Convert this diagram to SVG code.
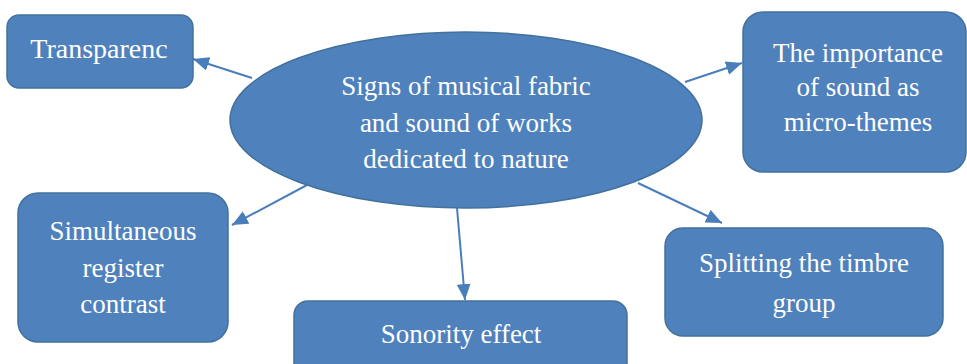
<svg xmlns="http://www.w3.org/2000/svg" width="967" height="364" viewBox="0 0 967 364">
<style>
.node{fill:#4F81BD;stroke:#41719C;stroke-width:1.5}
text{font-family:'Liberation Serif','Times New Roman',serif;font-size:27px;fill:#FFFFFF;text-anchor:middle}
.c{stroke:#4A7EBB;stroke-width:2;fill:none;marker-end:url(#ah)}
</style>
<defs>
<marker id="ah" markerUnits="userSpaceOnUse" markerWidth="16" markerHeight="14" refX="16" refY="7" orient="auto">
<path d="M0,0 L16,7 L0,14 Z" fill="#4A7EBB"/>
</marker>
</defs>
<g id="connectors">
<line class="c" x1="252" y1="78" x2="193" y2="59"/>
<line class="c" x1="685" y1="82" x2="742" y2="63"/>
<line class="c" x1="307" y1="185" x2="232" y2="225"/>
<line class="c" x1="457" y1="208" x2="465" y2="300"/>
<line class="c" x1="638" y1="183" x2="722" y2="223"/>
</g>
<g id="center">
<ellipse class="node" cx="466" cy="120" rx="236" ry="88"/>
<text x="466" y="95">Signs of musical fabric</text>
<text x="466" y="132">and sound of works</text>
<text x="466" y="168">dedicated to nature</text>
</g>
<g id="transparenc">
<rect class="node" x="7" y="15" width="186" height="73" rx="12"/>
<text x="99" y="58" style="font-size:28px">Transparenc</text>
</g>
<g id="importance">
<rect class="node" x="743" y="12" width="223" height="160" rx="20"/>
<text x="858" y="62">The importance</text>
<text x="858" y="96">of sound as</text>
<text x="858" y="131">micro-themes</text>
</g>
<g id="simultaneous">
<rect class="node" x="18" y="193" width="210" height="149" rx="20"/>
<text x="123" y="240">Simultaneous</text>
<text x="123" y="277">register</text>
<text x="123" y="313">contrast</text>
</g>
<g id="sonority">
<rect class="node" x="294" y="301" width="333" height="80" rx="14"/>
<text x="461" y="343">Sonority effect</text>
</g>
<g id="splitting">
<rect class="node" x="665" y="228" width="278" height="108" rx="18"/>
<text x="804" y="272">Splitting the timbre</text>
<text x="804" y="312">group</text>
</g>
</svg>
